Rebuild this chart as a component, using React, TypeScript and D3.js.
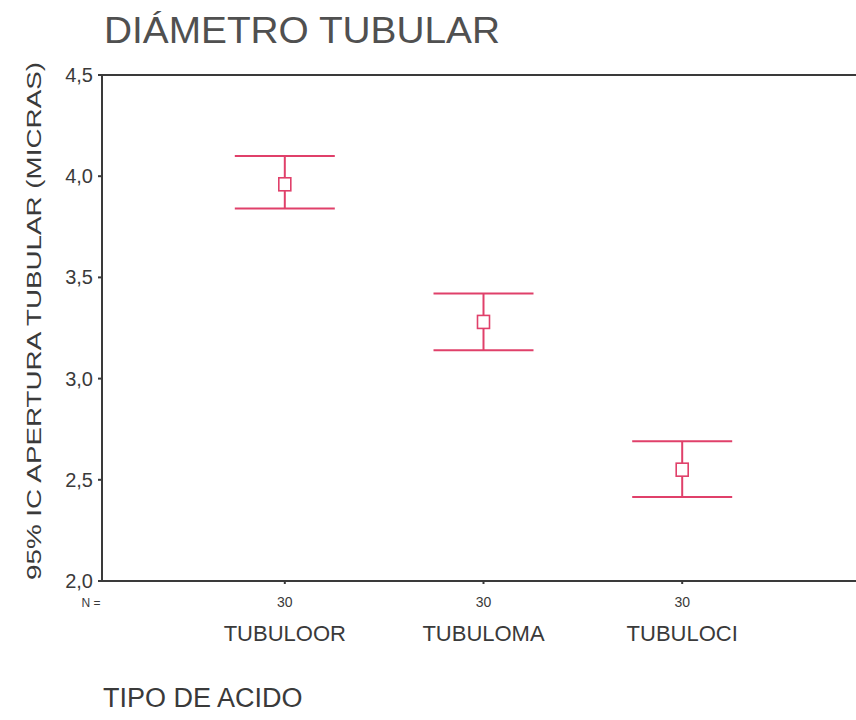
import * as React from "react";
import * as d3 from "d3";

const categories = ["TUBULOOR", "TUBULOMA", "TUBULOCI"];
const means = [3.96, 3.28, 2.55];
const lower = [3.84, 3.14, 2.415];
const upper = [4.1, 3.42, 2.69];
const counts = [30, 30, 30];
const yTicks = [2.0, 2.5, 3.0, 3.5, 4.0, 4.5];

const RED = "#e0406a";
const INK = "#3a3a3a";
const FONT = "'Liberation Sans', Arial, sans-serif";

export default function App() {
  const width = 856;
  const height = 720;
  const left = 102;
  const top = 75;
  const bottom = 581;

  const y = d3.scaleLinear().domain([2, 4.5]).range([bottom, top]);
  const x = d3
    .scalePoint<string>()
    .domain(categories)
    .range([left, 865])
    .padding(0.92);

  const fmt = (v: number) => d3.format(".1f")(v).replace(".", ",");
  const capHalf = 50;

  return (
    <svg
      width={width}
      height={height}
      style={{ position: "absolute", left: 0, top: 0, background: "#fff" }}
      fontFamily={FONT}
    >
      <text
        x={104}
        y={43}
        fontSize={36}
        fill="#505050"
        textLength={396}
        lengthAdjust="spacingAndGlyphs"
      >
        DIÁMETRO TUBULAR
      </text>

      <text
        transform={`translate(41,${(62 + 580) / 2}) rotate(-90)`}
        textAnchor="middle"
        fontSize={21}
        fill={INK}
        textLength={518}
        lengthAdjust="spacingAndGlyphs"
      >
        95% IC  APERTURA TUBULAR (MICRAS)
      </text>

      {/* frame: top and bottom lines run off the right edge */}
      <line x1={left} x2={width} y1={top} y2={top} stroke={INK} strokeWidth={2} />
      <line x1={left} x2={width} y1={bottom} y2={bottom} stroke={INK} strokeWidth={2} />
      <line x1={left} x2={left} y1={top} y2={bottom} stroke={INK} strokeWidth={2} />

      {yTicks.map((t) => (
        <g key={t}>
          <line x1={left - 4} x2={left} y1={y(t)} y2={y(t)} stroke={INK} strokeWidth={2} />
          <text
            x={left - 9}
            y={y(t)}
            dy="0.35em"
            textAnchor="end"
            fontSize={20}
            fill={INK}
          >
            {fmt(t)}
          </text>
        </g>
      ))}

      <text x={91} y={607} fontSize={12} textAnchor="middle" fill={INK}>
        N =
      </text>

      {categories.map((c, i) => {
        const cx = x(c) as number;
        return (
          <g key={c}>
            <line x1={cx} x2={cx} y1={bottom} y2={bottom + 3} stroke={INK} strokeWidth={2} />
            <text x={cx} y={607} fontSize={14} textAnchor="middle" fill={INK}>
              {counts[i]}
            </text>
            <text x={cx} y={641} fontSize={22} textAnchor="middle" fill={INK}>
              {c}
            </text>

            <line x1={cx} x2={cx} y1={y(upper[i])} y2={y(lower[i])} stroke={RED} strokeWidth={2} />
            <line
              x1={cx - capHalf}
              x2={cx + capHalf}
              y1={y(upper[i])}
              y2={y(upper[i])}
              stroke={RED}
              strokeWidth={2}
            />
            <line
              x1={cx - capHalf}
              x2={cx + capHalf}
              y1={y(lower[i])}
              y2={y(lower[i])}
              stroke={RED}
              strokeWidth={2}
            />
            <rect
              x={cx - 6}
              y={y(means[i]) - 6.5}
              width={12}
              height={13}
              fill="#fff"
              stroke={RED}
              strokeWidth={1.6}
            />
          </g>
        );
      })}

      <text x={103} y={707} fontSize={27} fill={INK}>
        TIPO DE ACIDO
      </text>
    </svg>
  );
}
